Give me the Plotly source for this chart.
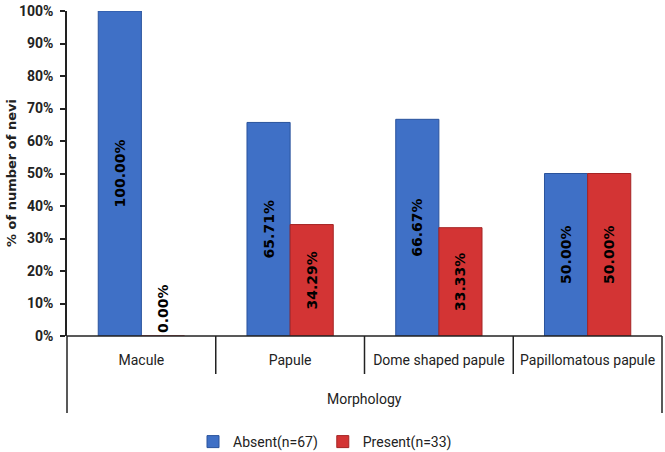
import plotly.graph_objects as go

categories = ["Macule", "Papule", "Dome shaped papule", "Papillomatous papule"]
absent = [100.00, 65.71, 66.67, 50.00]
present = [0.00, 34.29, 33.33, 50.00]
series_names = ["Absent(n=67)", "Present(n=33)"]
y_ticks = list(range(0, 101, 10))

NARROW = "Liberation Sans Narrow, Arial Narrow, Roboto, Liberation Sans, sans-serif"
WIDE = "DejaVu Sans"

def labels(vals):
    return [f"{v:.2f}%" for v in vals]

def positions(vals):
    return ["outside" if v == 0 else "inside" for v in vals]

fig = go.Figure()
fig.add_trace(go.Bar(
    x=categories, y=absent, name=series_names[0],
    marker=dict(color="#3F70C6", line=dict(color="#2A539C", width=1)),
    text=labels(absent), textposition=positions(absent), textangle=-90,
    insidetextanchor="middle", constraintext="none", cliponaxis=False,
    textfont=dict(family=WIDE, size=14, color="black", weight="bold"),
))
fig.add_trace(go.Bar(
    x=categories, y=present, name=series_names[1],
    marker=dict(color="#D33434", line=dict(color="#A52424", width=1)),
    text=labels(present), textposition=positions(present), textangle=-90,
    insidetextanchor="middle", constraintext="none", cliponaxis=False,
    textfont=dict(family=WIDE, size=14, color="black", weight="bold"),
))

H = 325.0  # plot height px
W = 595.0
shapes = [
    dict(type="line", xref="paper", yref="paper", x0=0, x1=1, y0=0, y1=0,
         line=dict(color="#222", width=1.5)),
    dict(type="line", xref="paper", yref="paper", x0=0, x1=0, y0=0, y1=-(413 - 336) / H,
         line=dict(color="#222", width=1.5)),
    dict(type="line", xref="paper", yref="paper", x0=1, x1=1, y0=0, y1=-(413 - 336) / H,
         line=dict(color="#222", width=1.5)),
]
for xd in [0.25, 0.5, 0.75]:
    shapes.append(dict(type="line", xref="paper", yref="paper", x0=xd, x1=xd, y0=0,
                       y1=-(374 - 336) / H, line=dict(color="#222", width=1.5)))

fig.update_layout(
    width=665, height=452,
    margin=dict(l=67, r=3, t=11, b=116, autoexpand=False),
    paper_bgcolor="white", plot_bgcolor="white",
    barmode="group", bargap=0.42, bargroupgap=0,
    showlegend=True,
    legend=dict(orientation="h", xref="paper", yref="paper", x=(325 - 67) / W, y=-(442 - 336) / H,
                xanchor="center", yanchor="middle",
                font=dict(family=NARROW, size=14, color="#222"),
                itemwidth=30, tracegroupgap=0),
    xaxis=dict(showline=False, ticks="", showgrid=False, automargin=False, tickangle=0,
               tickfont=dict(family=NARROW, size=14, color="#222"),
               ticklabelstandoff=14),
    yaxis=dict(range=[0, 100], tickvals=y_ticks, ticktext=[f"{v}%" for v in y_ticks],
               showline=True, linecolor="#222", linewidth=1.5, automargin=False,
               ticks="outside", ticklen=5, tickcolor="#222", tickwidth=1.5,
               showgrid=False, zeroline=False,
               tickfont=dict(family=NARROW, size=14, color="#222", weight="bold"),
               ticklabelstandoff=4),
    shapes=shapes,
    annotations=[
        dict(text="Morphology", xref="paper", yref="paper", x=0.5, y=-(399 - 336) / H,
             xanchor="center", yanchor="middle", showarrow=False,
             font=dict(family=NARROW, size=14, color="#222")),
        dict(text="% of number of nevi", xref="paper", yref="paper", x=(11 - 67) / W, y=(336 - 173) / H,
             xanchor="center", yanchor="middle", showarrow=False, textangle=-90,
             font=dict(family=WIDE, size=13, color="#222", weight="bold")),
    ],
)

fig.write_html("out.html", config={"displayModeBar": False},
               post_script="document.body.style.margin='0px';")
